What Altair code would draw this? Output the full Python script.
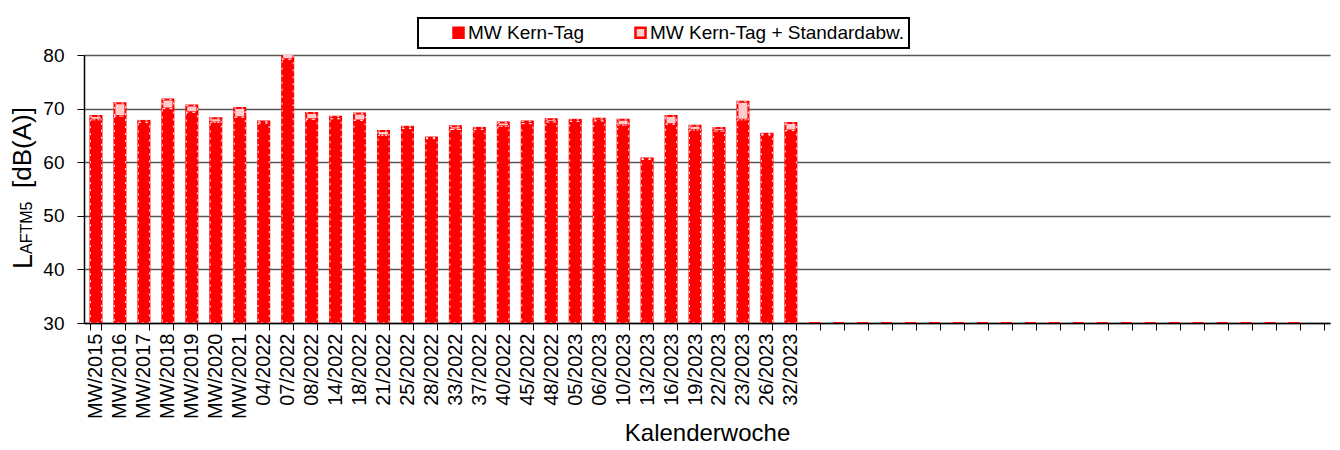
import altair as alt
import pandas as pd

# ---- data ----
categories = ["MW/2015", "MW/2016", "MW/2017", "MW/2018", "MW/2019", "MW/2020", "MW/2021",
              "04/2022", "07/2022", "08/2022", "14/2022", "18/2022", "21/2022", "25/2022",
              "28/2022", "33/2022", "37/2022", "40/2022", "45/2022", "48/2022", "05/2023",
              "06/2023", "10/2023", "13/2023", "16/2023", "19/2023", "22/2023", "23/2023",
              "26/2023", "32/2023"]
mw_values = [67.9, 68.6, 67.4, 70.0, 69.3, 67.4, 68.4, 67.3, 79.2, 68.0, 68.1, 67.8, 65.0, 66.3,
             64.4, 66.1, 66.1, 66.7, 67.2, 67.5, 67.6, 67.7, 66.9, 60.5, 67.1, 66.0, 65.8, 67.9,
             65.1, 65.9]
mw_sd_values = [68.6, 71.0, 67.7, 71.7, 70.6, 68.2, 70.1, 67.6, 80.5, 69.2, 68.5, 69.1, 65.8, 66.6,
                64.6, 66.7, 66.4, 67.4, 67.6, 68.0, 67.9, 68.1, 67.9, 60.7, 68.6, 66.8, 66.4, 71.3,
                65.3, 67.3]
empty_slots = ["_%02d" % i for i in range(1, 23)]
dash_count = 21
baseline = 30

series_mw = "MW Kern-Tag"
series_sd = "MW Kern-Tag + Standardabw."

rows = []
for c, m, t in zip(categories, mw_values, mw_sd_values):
    rows.append({"cat": c, "series": series_mw, "lo": baseline, "hi": m})
    rows.append({"cat": c, "series": series_sd, "lo": m, "hi": t})
for c in empty_slots[:dash_count]:
    rows.append({"cat": c, "series": series_mw, "lo": baseline, "hi": baseline})
df = pd.DataFrame(rows)
domain = categories + empty_slots

FONT = "Liberation Sans"

x_enc = alt.X(
    "cat:N", sort=domain,
    scale=alt.Scale(domain=domain, paddingInner=0.54, paddingOuter=0.27),
    axis=alt.Axis(
        title="Kalenderwoche", labelAngle=270, labelFontSize=20, labelFont=FONT,
        labelExpr="indexof(datum.label, '_') == 0 ? '' : datum.label",
        labelOverlap=False, tickBand="extent", tickSize=7, tickWidth=1, labelPadding=3,
        titleFontSize=24, titleFontWeight="normal", titleFont=FONT, titleY=117,
        titleBaseline="alphabetic", grid=False, domainColor="black", domainWidth=1.5,
        tickColor="black", labelColor="black", titleColor="black",
    ),
)
y_enc = alt.Y(
    "lo:Q",
    scale=alt.Scale(domain=[30, 80], nice=False),
    axis=alt.Axis(
        title=None, values=list(range(30, 81, 5)),
        labelExpr="datum.value % 10 == 0 ? datum.label : ''",
        labelFontSize=19, labelFont=FONT, labelColor="black", labelPadding=13,
        tickSize=7, tickWidth=1,
        tickColor={"condition": {"test": "datum.value % 10 == 0", "value": "black"}, "value": "transparent"},
        gridColor={"condition": {"test": "datum.value % 10 == 0", "value": "#555555"}, "value": "#bdbdbd"},
        gridWidth=1.6, grid=True, domainColor="black", domainWidth=1.5,
    ),
)

bars = alt.Chart(df).mark_bar(strokeWidth=2, clip=True).encode(
    x=x_enc,
    y=y_enc,
    y2="hi:Q",
    fill=alt.Fill(
        "series:N",
        scale=alt.Scale(domain=[series_mw, series_sd], range=["#ff0000", "#ffcccc"]),
        legend=alt.Legend(
            title=None, orient="none", legendX=334, legendY=-37, direction="horizontal",
            symbolType="square", symbolSize=100, symbolStrokeColor="#ff0000",
            symbolStrokeWidth=2.5, labelFontSize=19, labelFont=FONT, labelColor="black",
            labelLimit=400, padding=5, symbolOffset=26, columnPadding=20, labelOffset=0,
            strokeColor="black", fillColor="white",
        ),
    ),
    stroke=alt.Stroke(
        "series:N",
        scale=alt.Scale(domain=[series_mw, series_sd], range=["#ff0000", "#ff0000"]),
        legend=None,
    ),
)

# white dotted edge texture of the Excel pattern fill
texture = alt.Chart(df).transform_filter(
    alt.datum.hi > alt.datum.lo
).mark_bar(fill=None, stroke="white", strokeWidth=1, strokeDash=[2, 5], clip=True, opacity=0.9).encode(
    x=alt.X("cat:N", sort=domain), y="lo:Q", y2="hi:Q"
)

title_src = pd.DataFrame({"k": [0]})
t_L = alt.Chart(title_src).mark_text(
    text="L", angle=270, align="left", baseline="alphabetic", fontSize=27, font=FONT, color="black"
).encode(x=alt.value(-52), y=alt.value(214))
t_sub = alt.Chart(title_src).mark_text(
    text="AFTM5", angle=270, align="left", baseline="alphabetic", fontSize=16, font=FONT, color="black"
).encode(x=alt.value(-52), y=alt.value(199))
t_unit = alt.Chart(title_src).mark_text(
    text="[dB(A)]", angle=270, align="left", baseline="alphabetic", fontSize=26, font=FONT, color="black"
).encode(x=alt.value(-53), y=alt.value(133))

chart = alt.layer(bars, texture, t_L, t_sub, t_unit).properties(
    width=1246, height=268,
    padding={"left": 76, "top": 47, "right": 2, "bottom": 121},
    autosize=alt.AutoSizeParams(type="none"),
    background="white",
).configure_view(stroke=None).configure_legend(strokeWidth=2)

chart.save("out.html", embed_options={"renderer": "svg", "actions": False})
